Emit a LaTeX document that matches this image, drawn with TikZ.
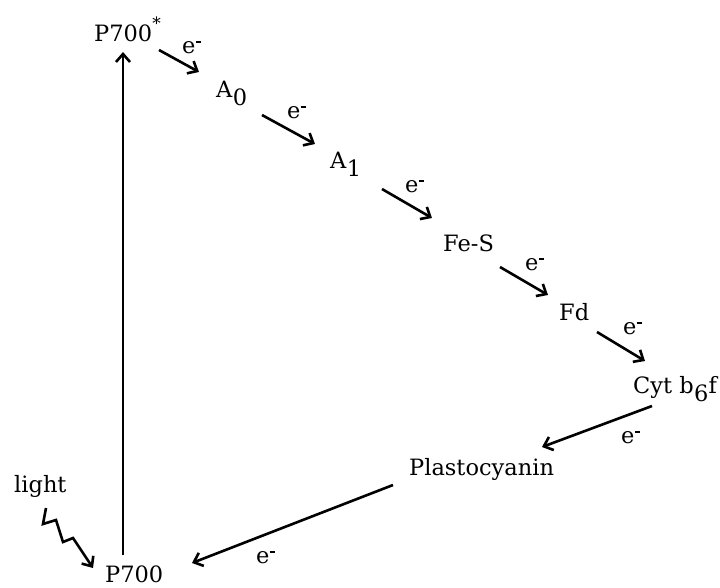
\documentclass[tikz,border=0pt]{standalone}
\usepackage{fontspec}
\setmainfont{DejaVu Serif}
\usetikzlibrary{arrows.meta,calc}

% low subscript digit and the electron label
\newcommand{\lowsub}[1]{\kern0.5pt\raisebox{-8pt}{#1}}
\newcommand{\elec}{e\kern0.3pt\rule[10pt]{5pt}{1.8pt}}

\begin{document}
\begin{tikzpicture}[x=1pt,y=-1pt,>={Straight Barb[length=8pt,width=14pt]},
  lbl/.style={inner sep=0pt,anchor=base west,font=\fontsize{22.5}{26}\selectfont},
  flow/.style={->,line width=2.6pt}]
\useasboundingbox (0,0) rectangle (720,587);
% carriers
\node[lbl] (p700s) at (94,41) {P700\raisebox{12pt}{\fontsize{17}{17}\selectfont *}};
\node[lbl] (a0) at (216,97) {A\lowsub{0}};
\node[lbl] (a1) at (330,168) {A\lowsub{1}};
\node[lbl] (fes) at (443,251) {Fe-S};
\node[lbl] (fd) at (559,320) {Fd};
\node[lbl] (cyt) at (633,393) {Cyt b\lowsub{6}f};
\node[lbl] (pc) at (409,475) {Plastocyanin};
\node[lbl] (p700) at (105,582) {P700};
\node[lbl] (light) at (14,492) {light};
% electron labels
\node[lbl] (e1) at (182,53) {\elec};
\node[lbl] (e2) at (287,118) {\elec};
\node[lbl] (e3) at (405,192) {\elec};
\node[lbl] (e4) at (525,270) {\elec};
\node[lbl] (e5) at (623,334) {\elec};
\node[lbl] (e6) at (621,443) {\elec};
\node[lbl] (e7) at (256,563) {\elec};
% transfer arrows
\draw[flow] ($(p700s.base west)+(65,9)$) -- ($(a0.base west)+(-17,-25)$);
\draw[flow] ($(a0.base west)+(46,18)$) -- ($(a1.base west)+(-15,-24)$);
\draw[flow] ($(a1.base west)+(52,21)$) -- ($(fes.base west)+(-11,-33)$);
\draw[flow] ($(fes.base west)+(57,16)$) -- ($(fd.base west)+(-11,-25)$);
\draw[flow] ($(fd.base west)+(38,12)$) -- ($(cyt.base west)+(12,-32)$);
\draw[flow] ($(cyt.base west)+(19,13)$) -- ($(pc.base west)+(133,-28)$);
\draw[flow] ($(pc.base west)+(-16,10)$) -- ($(p700.base west)+(87,-19)$);
\draw[flow] ($(p700.base west)+(18,-27)$) -- ($(p700s.base west)+(29,11)$);
% light
\draw[flow] ($(light.base west)+(32,16)$) -- ++(-3,16) -- ++(13,-4) -- ++(7,22) -- ++(10,-4)
  -- ($(p700.base west)+(-12,-14)$);
\end{tikzpicture}
\end{document}
